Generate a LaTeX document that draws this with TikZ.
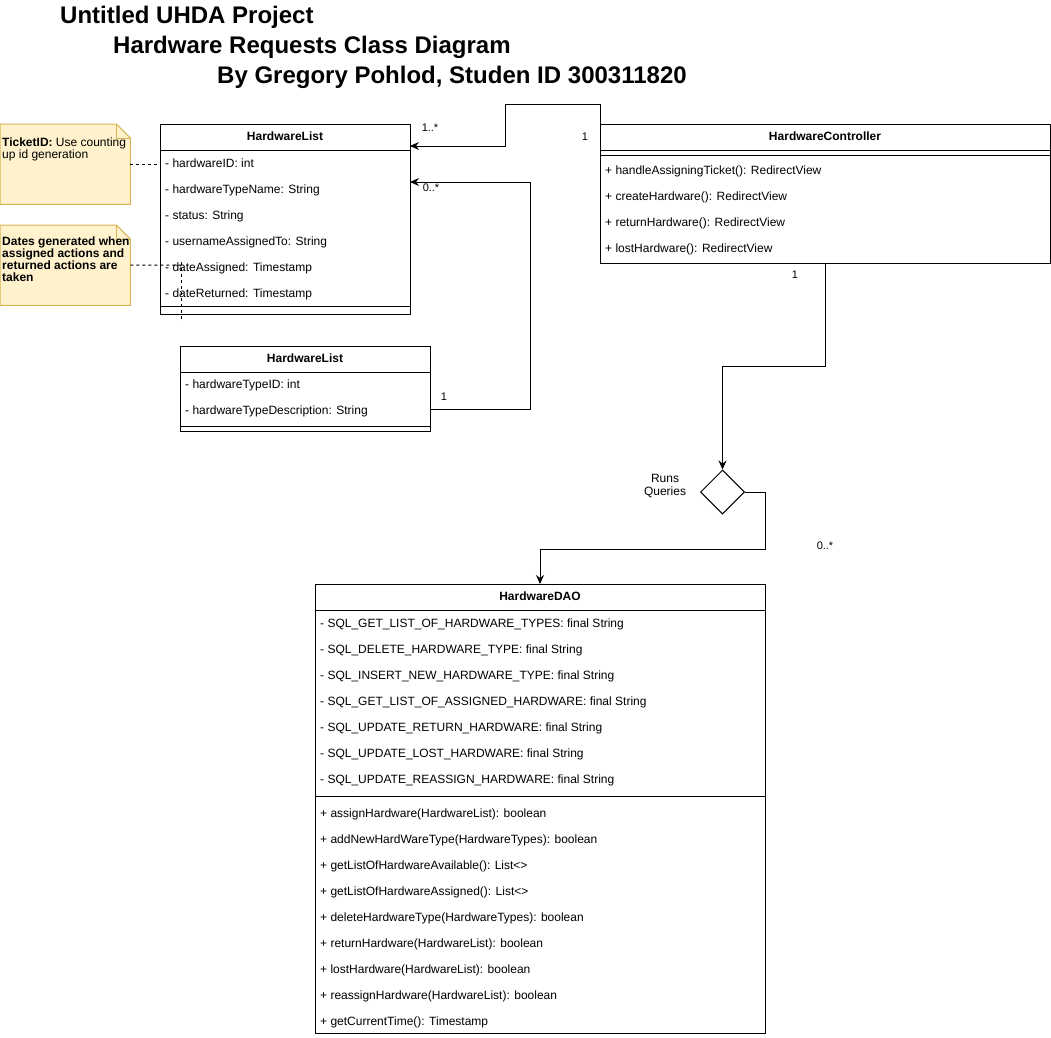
\documentclass[tikz,border=0pt]{standalone}
\usepackage{fontspec}
\setmainfont{Liberation Sans}
\usetikzlibrary{arrows.meta,calc,shapes.geometric}
\definecolor{notefill}{HTML}{FFF2CC}
\definecolor{notedraw}{HTML}{D6B656}
\begin{document}
\begin{tikzpicture}[x=1pt,y=-1pt,
  box/.style={draw, line width=1pt, fill=white, rectangle, anchor=north west, inner sep=0pt, outer sep=0pt},
  row/.style={anchor=west, inner sep=0pt, font=\fontsize{12}{14}\selectfont, text height=8.6pt, text depth=1pt},
  ttl/.style={inner sep=0pt, font=\fontsize{12}{14}\selectfont\bfseries, text height=8.6pt, text depth=1pt},
  lbl/.style={inner sep=0pt, font=\fontsize{11}{13}\selectfont, text height=8pt, text depth=2pt},
  sepline/.style={line width=1pt},
  conn/.style={line width=1pt},
  arr/.style={conn, -{Stealth[length=9pt,width=8pt,inset=3pt]}},
  dsh/.style={line width=1pt, dash pattern=on 3pt off 3pt},
  notebg/.style={fill=notefill, draw=notedraw, line width=1pt},
  notebox/.style={minimum width=130pt, minimum height=80pt, inner sep=0pt, anchor=north west},
  notetext/.style={anchor=north west, inner sep=0pt, align=left, font=\fontsize{12}{12}\selectfont},
  bigtitle/.style={anchor=base west, inner sep=0pt, font=\fontsize{24}{28}\selectfont\bfseries}
]
\useasboundingbox (0,0) rectangle (1051,1037);

% Titles
\node[bigtitle] (t1) at (60,23.5) {Untitled UHDA Project};
\node[bigtitle] (t2) at (113,53.5) {Hardware Requests Class Diagram};
\node[bigtitle] (t3) at (217,83.5) {By Gregory Pohlod, Studen ID 300311820};

% Note 1
\node[notebox] (n1) at (0,124) {};
\draw[notebg] (n1.north west) -- ($(n1.north east)+(-14,0)$) -- ($(n1.north east)+(0,14)$) -- (n1.south east) -- (n1.south west) -- cycle;
\draw[draw=notedraw, line width=1pt] ($(n1.north east)+(-14,0)$) -- ($(n1.north east)+(-14,14)$) -- ($(n1.north east)+(0,14)$);
\node[notetext] (n1t) at (2,138) {\textbf{TicketID:} Use counting\\up id generation};

% Note 2
\node[notebox] (n2) at (0,225) {};
\draw[notebg] (n2.north west) -- ($(n2.north east)+(-14,0)$) -- ($(n2.north east)+(0,14)$) -- (n2.south east) -- (n2.south west) -- cycle;
\draw[draw=notedraw, line width=1pt] ($(n2.north east)+(-14,0)$) -- ($(n2.north east)+(-14,14)$) -- ($(n2.north east)+(0,14)$);
\node[notetext, font=\fontsize{12}{12}\selectfont\bfseries] (n2t) at (2,237) {Dates generated when\\assigned actions and\\returned actions are\\taken};

% HardwareList (1)
\node[box, minimum width=250pt, minimum height=190pt] (hl) at (160,124) {};
\draw[sepline] (160,150) -- (410,150);
\draw[sepline] (160,306) -- (410,306);
\node[ttl] (hlT) at (285,137) {HardwareList};
\node[row] (hlr1) at (165,164) {- hardwareID: int};
\node[row] (hlr2) at (165,190) {- hardwareTypeName: String};
\node[row] (hlr3) at (165,216) {- status: String};
\node[row] (hlr4) at (165,242) {- usernameAssignedTo: String};
\node[row] (hlr5) at (165,268) {- dateAssigned: Timestamp};
\node[row] (hlr6) at (165,294) {- dateReturned: Timestamp};

% HardwareList (2)
\node[box, minimum width=250pt, minimum height=85pt] (hl2) at (180,346) {};
\draw[sepline] (180,372) -- (430,372);
\draw[sepline] (180,426) -- (430,426);
\node[ttl] (hl2T) at (305,359) {HardwareList};
\node[row] (hl2r1) at (185,385) {- hardwareTypeID: int};
\node[row] (hl2r2) at (185,411) {- hardwareTypeDescription: String};

% HardwareController
\node[box, minimum width=450pt, minimum height=139pt] (ctl) at (600,124) {};
\draw[sepline] (600,150) -- (1050,150);
\draw[sepline] (600,155) -- (1050,155);
\node[ttl] (ctlT) at (825,137) {HardwareController};
\node[row] (c1) at (605,171) {+ handleAssigningTicket(): RedirectView};
\node[row] (c2) at (605,197) {+ createHardware(): RedirectView};
\node[row] (c3) at (605,223) {+ returnHardware(): RedirectView};
\node[row] (c4) at (605,249) {+ lostHardware(): RedirectView};

% HardwareDAO
\node[box, minimum width=450pt, minimum height=449pt] (dao) at (315,584) {};
\draw[sepline] (315,610) -- (765,610);
\draw[sepline] (315,796) -- (765,796);
\node[ttl] (daoT) at (540,597) {HardwareDAO};
\node[row] (a1) at (320,624) {- SQL\_GET\_LIST\_OF\_HARDWARE\_TYPES: final String};
\node[row] (a2) at (320,650) {- SQL\_DELETE\_HARDWARE\_TYPE: final String};
\node[row] (a3) at (320,676) {- SQL\_INSERT\_NEW\_HARDWARE\_TYPE: final String};
\node[row] (a4) at (320,702) {- SQL\_GET\_LIST\_OF\_ASSIGNED\_HARDWARE: final String};
\node[row] (a5) at (320,728) {- SQL\_UPDATE\_RETURN\_HARDWARE: final String};
\node[row] (a6) at (320,754) {- SQL\_UPDATE\_LOST\_HARDWARE: final String};
\node[row] (a7) at (320,780) {- SQL\_UPDATE\_REASSIGN\_HARDWARE: final String};
\node[row] (m1) at (320,814) {+ assignHardware(HardwareList): boolean};
\node[row] (m2) at (320,840) {+ addNewHardWareType(HardwareTypes): boolean};
\node[row] (m3) at (320,866) {+ getListOfHardwareAvailable(): List<>};
\node[row] (m4) at (320,892) {+ getListOfHardwareAssigned(): List<>};
\node[row] (m5) at (320,918) {+ deleteHardwareType(HardwareTypes): boolean};
\node[row] (m6) at (320,944) {+ returnHardware(HardwareList): boolean};
\node[row] (m7) at (320,970) {+ lostHardware(HardwareList): boolean};
\node[row] (m8) at (320,996) {+ reassignHardware(HardwareList): boolean};
\node[row] (m9) at (320,1022) {+ getCurrentTime(): Timestamp};

% Diamond
\node[draw, line width=1pt, diamond, aspect=1, minimum width=44pt, minimum height=44pt, inner sep=0pt] (dia) at (722.5,492) {};
\node[inner sep=0pt, align=center, font=\fontsize{12}{13.5}\selectfont] (runs) at (665,486) {Runs\\Queries};

% Dashed note links
\draw[dsh] (n1.east) -- (hl.west |- n1.east);
\coordinate (n2end) at (181,322);
\draw[dsh] (n2.east) -- (181,265) -- (181,262);
\draw[dsh] (181,262) -- (n2end);

% Connectors
\draw[arr] (ctl.north west) -- (600,104) -- (505,104) -- (505,146) -- ($(hl.north east)+(0,22)$);
\node[lbl] (l1) at (430,128) {1..*};
\node[lbl] (l2) at (585,137) {1};

\draw[arr] ($(hl2.north east)+(0,63)$) -- (530,409) -- (530,182) -- ($(hl.north east)+(0,58)$);
\node[lbl] (l3) at (431,188) {0..*};
\node[lbl] (l4) at (444,397) {1};

\draw[arr] (ctl.south) -- (825,366) -- (722.5,366) -- (dia.north);
\node[lbl] (l5) at (795,275) {1};

\draw[arr] (dia.east) -- (765,492) -- (765,549) -- (540,549) -- (dao.north);
\node[lbl] (l6) at (825,546) {0..*};
\end{tikzpicture}
\end{document}
